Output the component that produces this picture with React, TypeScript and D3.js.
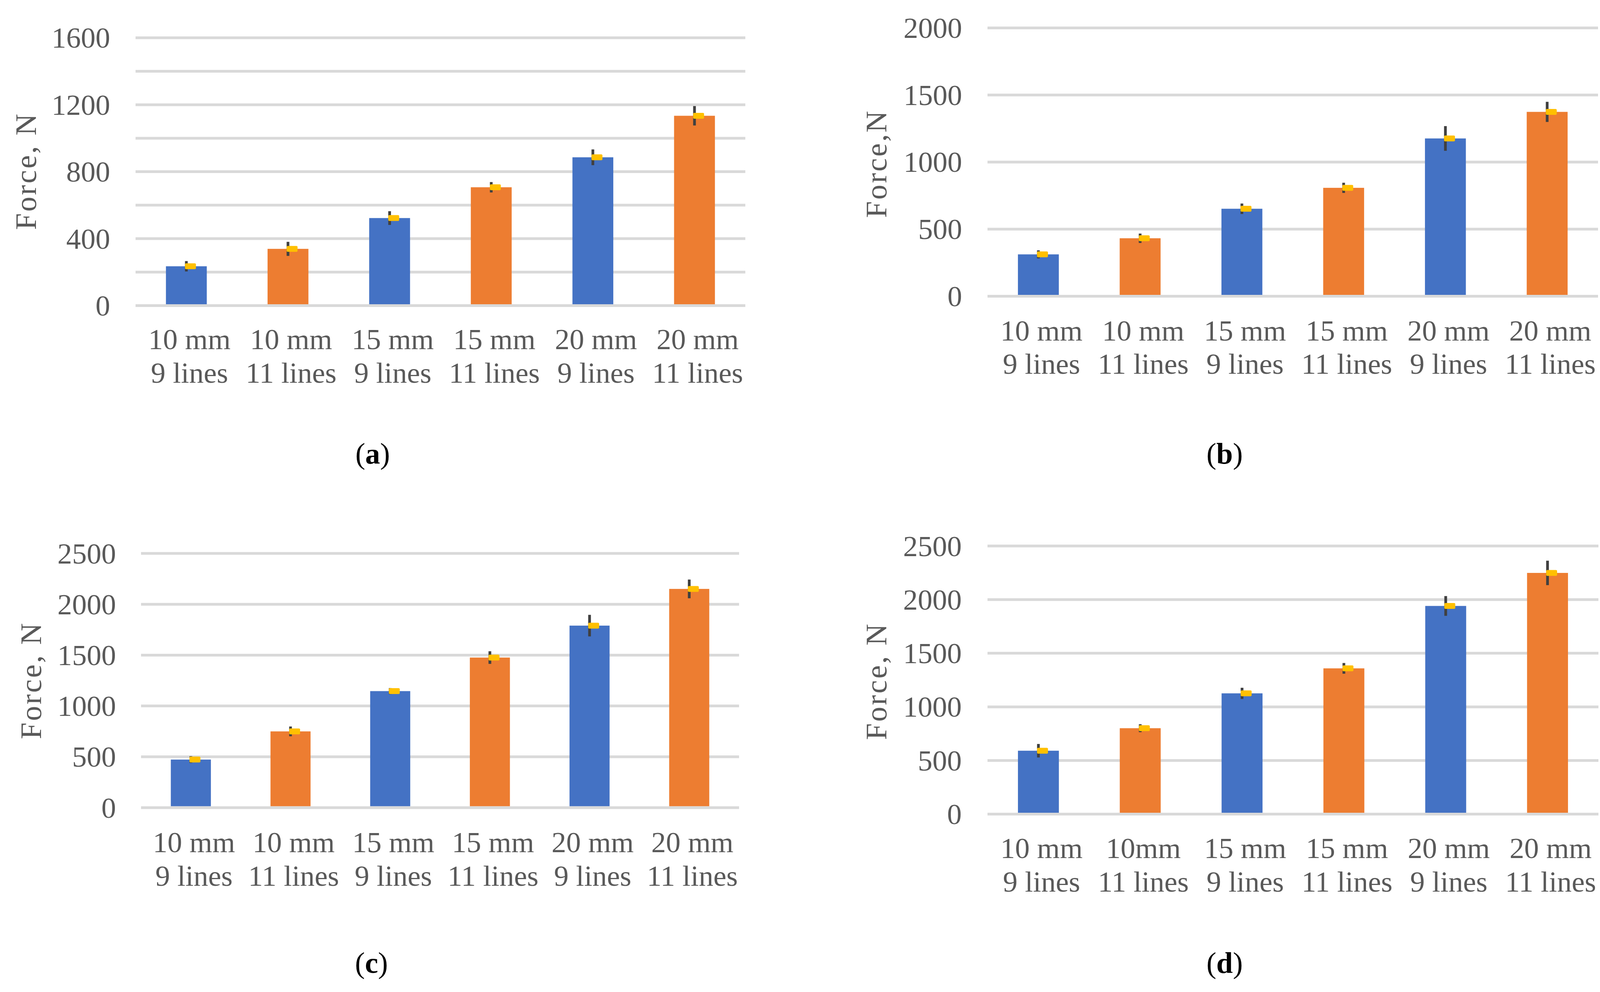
import React from "react";
import * as d3 from "d3";

const categoriesAB = ["10 mm|9 lines", "10 mm|11 lines", "15 mm|9 lines", "15 mm|11 lines", "20 mm|9 lines", "20 mm|11 lines"];
const categoriesD = ["10 mm|9 lines", "10mm|11 lines", "15 mm|9 lines", "15 mm|11 lines", "20 mm|9 lines", "20 mm|11 lines"];

const valuesA = [235, 339, 523, 707, 886, 1134];
const errorsA = [31, 42, 41, 31, 47, 58];
const valuesB = [312, 432, 652, 808, 1176, 1374];
const errorsB = [30, 35, 39, 38, 92, 75];
const valuesC = [473, 750, 1146, 1476, 1790, 2151];
const errorsC = [33, 48, 30, 62, 106, 92];
const valuesD = [591, 801, 1126, 1359, 1941, 2249];
const errorsD = [63, 37, 52, 50, 92, 114];

const gridA = [0, 200, 400, 600, 800, 1000, 1200, 1400, 1600];
const labelsA = [0, 400, 800, 1200, 1600];
const ticks2000 = [0, 500, 1000, 1500, 2000];
const ticks2500 = [0, 500, 1000, 1500, 2000, 2500];

const BLUE = "#4472C4";
const ORANGE = "#ED7D31";
const YELLOW = "#FFC000";
const ERR = "#404040";
const GRID = "#D9D9D9";
const TXT = "#595959";
const FONT = "'Liberation Serif', 'Times New Roman', serif";

type Panel = {
  cats: string[]; values: number[]; errors: number[]; grid: number[]; labels: number[]; max: number;
  x0: number; x1: number; y0: number; yTop: number; labelRight: number;
  title: string; titleX: number; titleY: number; xl1: number; xl2: number;
  cap: string; capX: number; capY: number;
};

const panels: Panel[] = [
  { cats: categoriesAB, values: valuesA, errors: errorsA, grid: gridA, labels: labelsA, max: 1600,
    x0: 347, x1: 1908, y0: 782.5, yTop: 96.7, labelRight: 282, title: "Force, N", titleX: 66, titleY: 438,
    xl1: 894, xl2: 980, cap: "a", capX: 954, capY: 1187 },
  { cats: categoriesAB, values: valuesB, errors: errorsB, grid: ticks2000, labels: ticks2000, max: 2000,
    x0: 2528, x1: 4091, y0: 758.5, yTop: 71.4, labelRight: 2463, title: "Force,N", titleX: 2243, titleY: 419,
    xl1: 872, xl2: 957, cap: "b", capX: 3135, capY: 1187 },
  { cats: categoriesAB, values: valuesC, errors: errorsC, grid: ticks2500, labels: ticks2500, max: 2500,
    x0: 361, x1: 1892, y0: 2068, yTop: 1417, labelRight: 297, title: "Force, N", titleX: 79, titleY: 1742,
    xl1: 2182, xl2: 2268, cap: "c", capX: 951, capY: 2491 },
  { cats: categoriesD, values: valuesD, errors: errorsD, grid: ticks2500, labels: ticks2500, max: 2500,
    x0: 2528, x1: 4092, y0: 2084.5, yTop: 1398, labelRight: 2462, title: "Force, N", titleX: 2243, titleY: 1744,
    xl1: 2197, xl2: 2283, cap: "d", capX: 3135, capY: 2491 },
];

function ChartPanel({ p }: { p: Panel }) {
  const x = d3.scaleBand<string>().domain(p.cats).range([p.x0, p.x1]).padding(0);
  const y = d3.scaleLinear().domain([0, p.max]).range([p.y0, p.yTop]);
  const bw = x.bandwidth() * 0.402;
  const fs = 75;
  return (
    <g>
      {p.grid.filter((t) => t !== 0).map((t) => (
        <line key={"g" + t} x1={p.x0} x2={p.x1} y1={y(t)} y2={y(t)} stroke={GRID} strokeWidth={7} />
      ))}
      {p.labels.map((t) => (
        <text key={"l" + t} x={p.labelRight} y={y(t)} textAnchor="end" dominantBaseline="central"
          fontFamily={FONT} fontSize={fs} fill={TXT}>{t}</text>
      ))}
      {p.cats.map((c, i) => {
        const cx = (x(c) as number) + x.bandwidth() / 2;
        return (
          <rect key={"b" + i} x={cx - bw / 2} y={y(p.values[i])} width={bw} height={p.y0 - 3.5 - y(p.values[i])}
            fill={i % 2 === 0 ? BLUE : ORANGE} />
        );
      })}
      <line x1={p.x0} x2={p.x1} y1={p.y0} y2={p.y0} stroke={GRID} strokeWidth={7} />
      {p.cats.map((c, i) => {
        const cx = (x(c) as number) + x.bandwidth() / 2;
        return (
          <g key={"e" + i}>
            <line x1={cx} x2={cx} y1={y(p.values[i] + p.errors[i])} y2={y(p.values[i] - p.errors[i])}
              stroke={ERR} strokeWidth={7} />
            <rect x={cx - 3.5} y={y(p.values[i]) - 7.5} width={28} height={15} rx={3} fill={YELLOW} />
          </g>
        );
      })}
      {p.cats.map((c, i) => {
        const cx = (x(c) as number) + x.bandwidth() / 2 + 8;
        const [l1, l2] = c.split("|");
        return (
          <g key={"x" + i}>
            <text x={cx} y={p.xl1} textAnchor="middle" fontFamily={FONT} fontSize={fs} fill={TXT}>{l1}</text>
            <text x={cx} y={p.xl2} textAnchor="middle" fontFamily={FONT} fontSize={fs} fill={TXT}>{l2}</text>
          </g>
        );
      })}
      <text transform={`translate(${p.titleX},${p.titleY}) rotate(-90)`} textAnchor="middle" dominantBaseline="central"
        fontFamily={FONT} fontSize={77} letterSpacing={4} fill={TXT}>{p.title}</text>
      <text x={p.capX} y={p.capY} textAnchor="middle" fontFamily={FONT} fontSize={76} fill="#000">
        (<tspan fontWeight="bold">{p.cap}</tspan>)
      </text>
    </g>
  );
}

export default function App() {
  return (
    <svg width={4142} height={2540} style={{ position: "absolute", left: 0, top: 0, background: "#fff" }}>
      <rect x={0} y={0} width={4142} height={2540} fill="#fff" />
      {panels.map((p, i) => <ChartPanel key={i} p={p} />)}
    </svg>
  );
}
